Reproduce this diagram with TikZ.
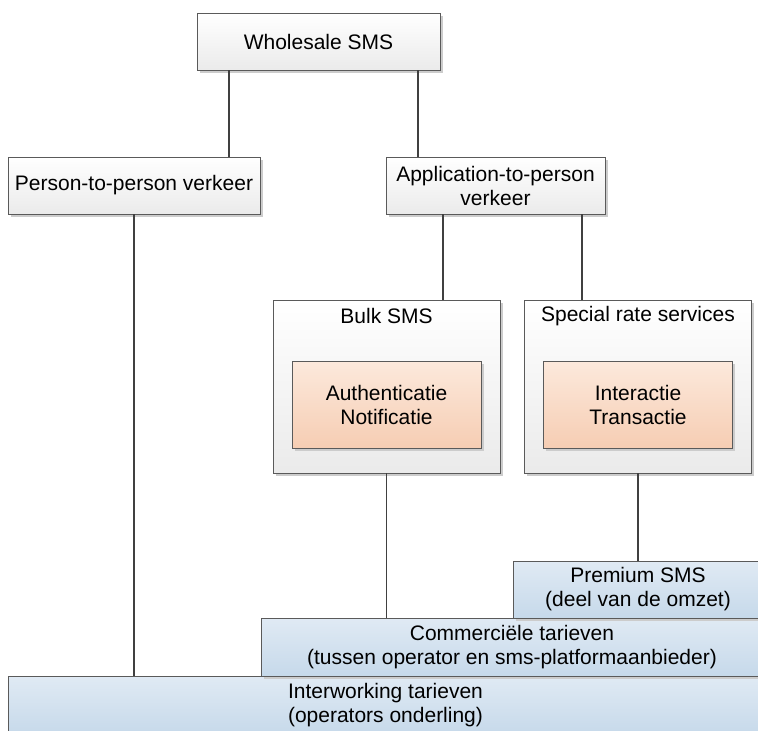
\documentclass[tikz,border=0pt]{standalone}
\usepackage{fontspec}
\setmainfont{Liberation Sans}
\usetikzlibrary{shadows}
\definecolor{ortop}{HTML}{FCE9DC}
\definecolor{orbot}{HTML}{F6CDB3}
\definecolor{bltop}{HTML}{E0EAF4}
\definecolor{blbot}{HTML}{C6D9EA}
\definecolor{edge}{HTML}{5A5A5A}

\begin{document}
\begin{tikzpicture}[x=1pt,y=-1pt,
  box/.style={draw=edge,line width=0.9pt,inner sep=0pt,align=center,
    font=\fontsize{21}{24}\selectfont,
    drop shadow={shadow xshift=2.5pt,shadow yshift=-2.5pt,fill=black!20,opacity=1}},
  greybox/.style={box,top color=white,bottom color=black!8},
  orangebox/.style={box,top color=ortop,bottom color=orbot},
  bluebox/.style={box,top color=bltop,bottom color=blbot},
  title/.style={font=\fontsize{21}{24}\selectfont},
  link/.style={draw=black!75,line width=1.3pt}]
  \useasboundingbox (0,0) rectangle (758,731);
  \node[greybox,minimum width=243pt,minimum height=57pt] (ws) at (318.5,41.5) {Wholesale SMS};
  \node[greybox,minimum width=252pt,minimum height=57pt] (p2p) at (134,185.5) {Person-to-person verkeer};
  \node[greybox,minimum width=219pt,minimum height=57pt] (a2p) at (495.5,185.5) {Application-to-person\\verkeer};
  \node[greybox,minimum width=227pt,minimum height=173pt] (bulk) at (386.5,386.5) {};
  \node[title] (bulkt) at (386.5,316) {Bulk SMS};
  \node[orangebox,minimum width=189pt,minimum height=87pt] (auth) at (386.5,404.5) {Authenticatie\\Notificatie};
  \node[greybox,minimum width=227pt,minimum height=173pt] (special) at (638,386.5) {};
  \node[title] (specialt) at (638,316) {Special rate services};
  \node[orangebox,minimum width=189pt,minimum height=87pt] (inter) at (638,404.5) {Interactie\\Transactie};
  \node[bluebox,minimum width=755pt,minimum height=59pt] (iw) at (385.5,705.5) {Interworking tarieven\\(operators onderling)};
  \node[bluebox,minimum width=502pt,minimum height=58pt] (comm) at (512,647) {Commerciële tarieven\\(tussen operator en sms-platformaanbieder)};
  \node[bluebox,minimum width=250pt,minimum height=57pt] (premium) at (638,589.5) {Premium SMS\\(deel van de omzet)};
  \draw[link] (229,0 |- ws.south) -- (229,0 |- p2p.north);
  \draw[link] (418,0 |- ws.south) -- (418,0 |- a2p.north);
  \draw[link] (443,0 |- a2p.south) -- (443,0 |- bulk.north);
  \draw[link] (582,0 |- a2p.south) -- (582,0 |- special.north);
  \draw[link] (p2p.south) -- (p2p.south |- iw.north);
  \draw[link] (bulk.south) -- (bulk.south |- comm.north);
  \draw[link] (special.south) -- (premium.north);
\end{tikzpicture}
\end{document}
